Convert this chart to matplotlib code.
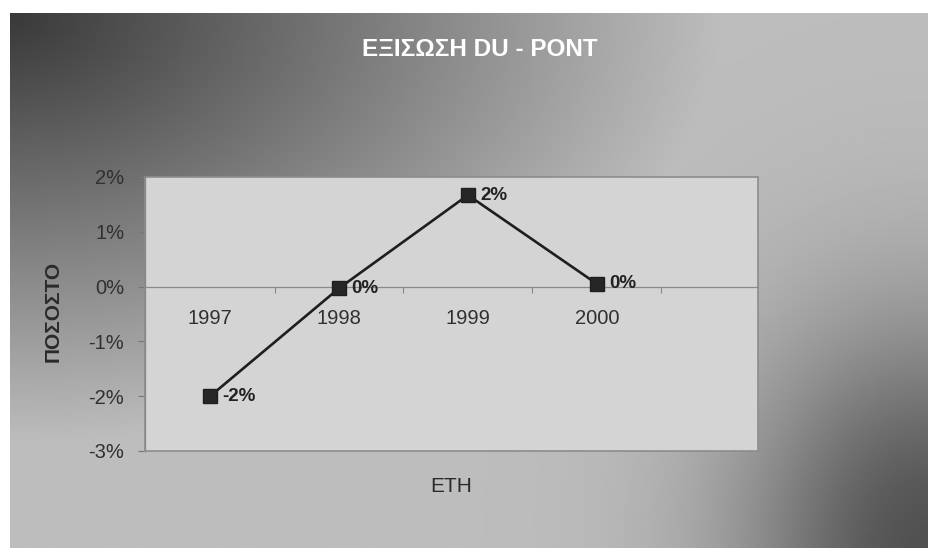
import numpy as np
import matplotlib
matplotlib.use("Agg")
import matplotlib.pyplot as plt
from matplotlib.patches import Rectangle
from matplotlib.ticker import FixedLocator, PercentFormatter

plt.rcParams['font.family'] = ['Liberation Sans', 'DejaVu Sans']
plt.rcParams['axes.unicode_minus'] = False

# ---- data ----
years = ["1997", "1998", "1999", "2000"]
values = [-0.020, -0.0003, 0.0167, 0.0005]
y_ticks = [-0.03, -0.02, -0.01, 0.0, 0.01, 0.02]
title = "ΕΞΙΣΩΣΗ DU - PONT"
x_label = "ΕΤΗ"
y_label = "ΠΟΣΟΣΤΟ"

W, H = 929, 548
fig = plt.figure(figsize=(W / 100, H / 100), dpi=100)
fig.patch.set_facecolor("white")

# ---- gradient background (style only) ----
bg = fig.add_axes([10 / W, 0, 1 - 10 / W, 1 - 13 / H], zorder=0)
gx, gy = np.meshgrid(np.linspace(10, W, 300), np.linspace(13, H, 200))
t = np.sqrt((gx / 720) ** 2 + ((gy - 13) / 430) ** 2)
shade = 0.22 + 0.52 * np.clip(t, 0, 1)
d2 = 0.42 * np.exp(-(((W - gx) / 190) ** 2 + ((H - gy) / 230) ** 2))
shade = np.clip(shade - d2, 0, 1)
bg.imshow(shade, cmap="gray", vmin=0, vmax=1, aspect="auto",
          extent=[0, 1, 0, 1], origin="upper", interpolation="bilinear")
bg.set_axis_off()

# ---- main axes ----
ax = fig.add_axes([145 / W, 1 - 451 / H, (758 - 145) / W, (451 - 177) / H], zorder=1)
ax.set_facecolor("#d4d4d4")
x = np.arange(len(years))
ax.plot(x, values, color="#1e1e1e", lw=1.9, marker="s", markersize=10.5,
        markerfacecolor="#262626", markeredgecolor="#1e1e1e", zorder=4, clip_on=False)

for xi, v in zip(x, values):
    lab = "{:.0f}%".format(round(v * 100) + 0.0)
    ax.annotate(lab, (xi, v), xytext=(9, 0), textcoords="offset points",
                ha="left", va="center", fontsize=13.5, fontweight="bold",
                color="#222222", zorder=5)

ax.set_xlim(-0.505, 4.25)
ax.set_ylim(-0.03, 0.02)

# y axis
ax.yaxis.set_major_locator(FixedLocator(y_ticks))
ax.yaxis.set_major_formatter(PercentFormatter(1.0, decimals=0))
ax.tick_params(axis="y", direction="out", length=5, width=0.8, color="#777777",
               pad=10, labelsize=14.5, labelcolor="#303030")

# x axis crossing at zero
ax.spines["bottom"].set_position(("data", 0))
ax.spines["bottom"].set_color("#8a8a8a")
ax.spines["bottom"].set_linewidth(0.9)
ax.set_xticks(x)
ax.set_xticklabels(years)
ax.set_xticks([0.5, 1.5, 2.5, 3.5], minor=True)
ax.tick_params(axis="x", which="major", length=0, pad=16, labelsize=14.5,
               labelcolor="#303030")
ax.tick_params(axis="x", which="minor", direction="out", length=4, width=0.8,
               color="#888888")

for s in ["top", "right"]:
    ax.spines[s].set_visible(False)
ax.spines["left"].set_color("#777777")
ax.spines["left"].set_linewidth(0.9)

# plot-area border
ax.add_patch(Rectangle((0, 0), 1, 1, transform=ax.transAxes, fill=False,
                       edgecolor="#8c8c8c", lw=1.2, zorder=3, clip_on=False))

# labels
ax.set_xlabel(x_label, fontsize=15, color="#2a2a2a")
ax.xaxis.set_label_coords(0.5, -0.095)
ax.xaxis.label.set_va("top")
ax.set_ylabel(y_label, fontsize=15, fontweight="bold", color="#2a2a2a")
ax.yaxis.set_label_coords(-0.15, 0.51)
ax.yaxis.label.set_va("center")

fig.text(480 / W, 1 - 49 / H, title, ha="center", va="center", fontsize=17.5,
         fontweight="bold", color="white")

fig.savefig("out.png", dpi=100)
